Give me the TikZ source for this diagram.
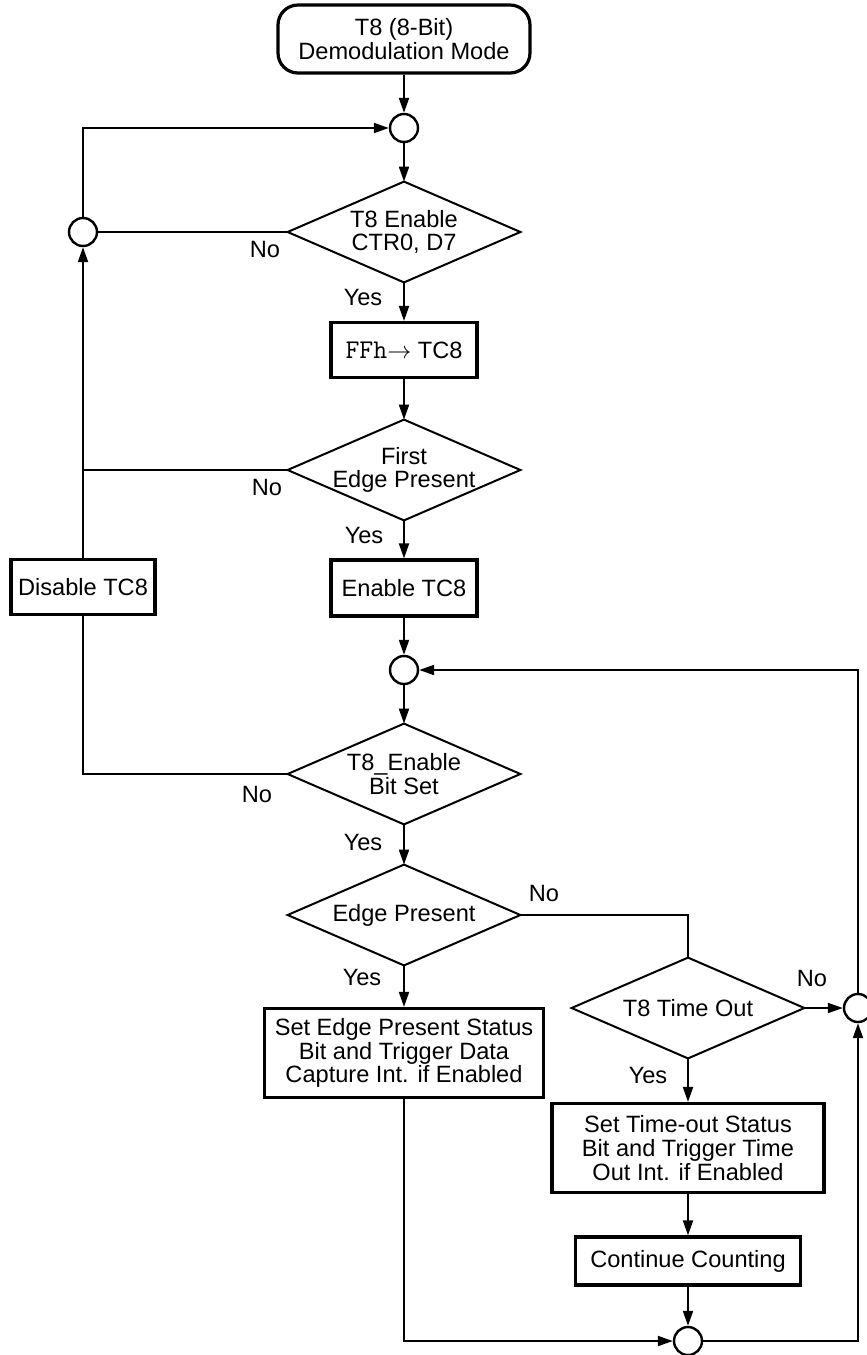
\documentclass[tikz,border=0pt]{standalone}
\usepackage{fontspec}
\setmainfont{Liberation Sans}
\usetikzlibrary{arrows.meta}
\begin{document}
\begin{tikzpicture}[x=0.5pt,y=-0.5pt,
  every node/.style={font=\fontsize{11.8pt}{11.8pt}\selectfont},
  line/.style={line width=1pt},
  arr/.style={line width=1pt, -{Triangle[length=7.5pt,width=5pt]}},
  box/.style={draw, line width=1.6pt, rectangle, inner sep=0pt, align=center},
  dec/.style={rectangle, inner sep=0pt, minimum width=116pt, minimum height=50pt, align=center},
  junc/.style={draw, circle, line width=1.2pt, minimum size=14pt, inner sep=0pt},
  lbl/.style={inner sep=0pt}]
\useasboundingbox (0,0) rectangle (867,1355);

% nodes
\node[box, rounded corners=10pt, minimum width=126pt, minimum height=34pt] (start) at (404,39) {T8 (8-Bit)\\Demodulation Mode};
\node[junc] (c1) at (404,128) {};
\node[dec] (d1) at (404,232) {T8 Enable\\CTR0, D7};
\node[junc] (c2) at (83,232) {};
\node[box, minimum width=73pt, minimum height=27.5pt] (ffh) at (404,350) {{\fontsize{13.5pt}{12pt}\ttfamily FFh}$\rightarrow$ TC8};
\node[dec] (d2) at (404,470) {First\\Edge Present};
\node[box, minimum width=73pt, minimum height=28pt] (enable) at (404,588) {Enable TC8};
\node[box, minimum width=72pt, minimum height=27.5pt] (disable) at (83,587) {Disable TC8};
\node[junc] (c3) at (404,670) {};
\node[dec] (d3) at (404,774) {T8\_Enable\\Bit Set};
\node[dec] (d4) at (404,915) {Edge Present};
\node[box, minimum width=139.5pt, minimum height=44.5pt] (setedge) at (404,1053) {Set Edge Present Status\\Bit and Trigger Data\\Capture Int. if Enabled};
\node[dec] (d5) at (688,1008) {T8 Time Out};
\node[box, minimum width=136pt, minimum height=44.5pt] (settime) at (688,1148) {Set Time-out Status\\Bit and Trigger Time\\Out Int. if Enabled};
\node[box, minimum width=112.5pt, minimum height=24pt] (cont) at (688,1261) {Continue Counting};
\node[junc] (c4) at (688,1341) {};
\node[junc] (c5) at (858,1008) {};

% diamonds
\foreach \n in {d1,d2,d3,d4,d5}
  \draw[line] (\n.north) -- (\n.east) -- (\n.south) -- (\n.west) -- cycle;

% connectors
\draw[arr] (start.south) -- (c1.north);
\draw[arr] (c1.south) -- (d1.north);
\draw[line] (d1.west) -- (c2.east);
\draw[arr] (c2.north) |- (c1.west);
\draw[arr] (d1.south) -- (ffh.north);
\draw[arr] (ffh.south) -- (d2.north);
\draw[line] (d2.west) -- (d2.west -| c2.south);
\draw[arr] (d2.south) -- (enable.north);
\draw[arr] (disable.north) -- (c2.south);
\draw[arr] (enable.south) -- (c3.north);
\draw[arr] (c3.south) -- (d3.north);
\draw[line] (d3.west) -| (disable.south);
\draw[arr] (d3.south) -- (d4.north);
\draw[line] (d4.east) -| (d5.north);
\draw[arr] (d4.south) -- (setedge.north);
\draw[arr] (d5.east) -- (c5.west);
\draw[arr] (d5.south) -- (settime.north);
\draw[arr] (settime.south) -- (cont.north);
\draw[arr] (cont.south) -- (c4.north);
\draw[arr] (setedge.south) |- (c4.west);
\draw[arr] (c4.east) -| (c5.south);
\draw[arr] (c5.north) |- (c3.east);

% labels
\node[lbl] (no1) at (265,249) {No};
\node[lbl] (yes1) at (363,297) {Yes};
\node[lbl] (no2) at (267,487) {No};
\node[lbl] (yes2) at (364,535) {Yes};
\node[lbl] (no3) at (257,794) {No};
\node[lbl] (yes3) at (363,842) {Yes};
\node[lbl] (no4) at (544,893) {No};
\node[lbl] (yes4) at (362,977) {Yes};
\node[lbl] (no5) at (812,978) {No};
\node[lbl] (yes5) at (648,1075) {Yes};
\end{tikzpicture}
\end{document}
